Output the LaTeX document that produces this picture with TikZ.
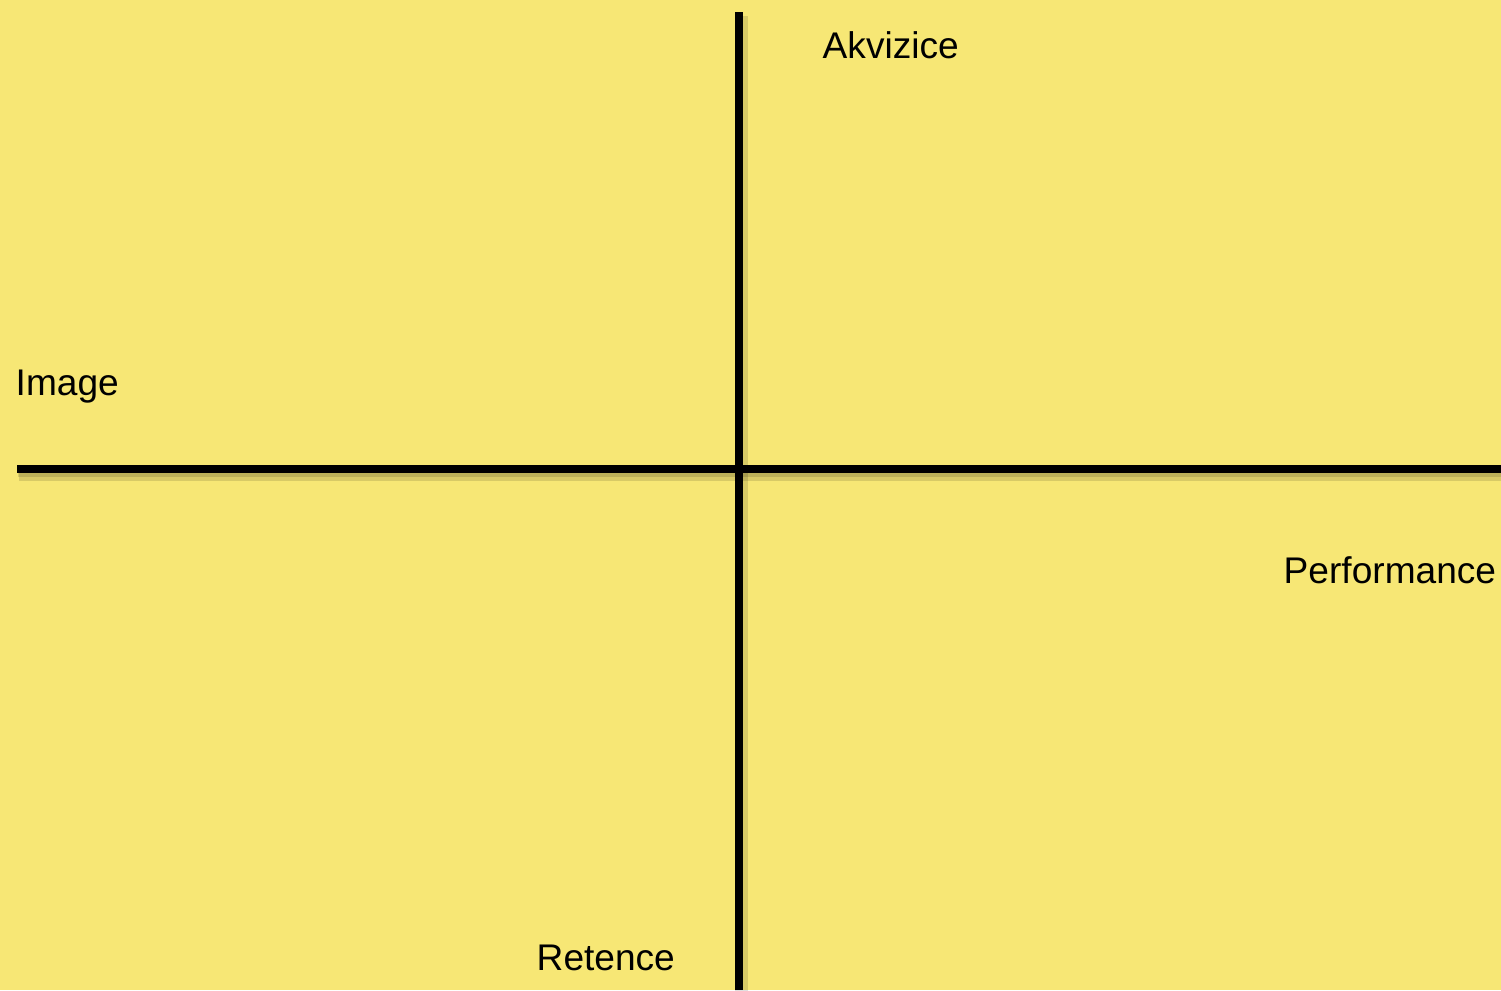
\documentclass[tikz,border=0pt]{standalone}
\usepackage{fontspec}
\setmainfont{Liberation Sans}
\definecolor{notepad}{HTML}{F7E775}

\tikzset{
  axis/.style={line width=0.085cm, black},
  axisshadow/.style={line width=0.13cm, black, opacity=0.12},
  lbl/.style={anchor=base west, font=\fontsize{10.55}{12.5}\selectfont, inner sep=0pt}
}

\begin{document}
\begin{tikzpicture}[x=0.01cm, y=-0.01cm]
  \fill[notepad] (0,0) rectangle (1501,990);
  \useasboundingbox (0,0) rectangle (1501,990);
  \coordinate (top) at (739,12);
  \coordinate (bottom) at (739,990);
  \coordinate (left) at (17,469);
  \coordinate (right) at (1501,469);
  % soft shadow under the axes
  \draw[axisshadow] ([shift={(2,4)}]top) -- ([shift={(2,4)}]bottom);
  \draw[axisshadow] ([shift={(2,5)}]left) -- ([shift={(2,5)}]right);
  \draw[axisshadow, line width=0.1cm] ([shift={(1,3)}]left) -- ([shift={(1,3)}]right);
  \draw[axis] (top) -- (bottom);
  \draw[axis] (left) -- (right);
  \node[lbl] (akv) at (822,58) {Akvizice};
  \node[lbl] (img) at (15,395) {Image};
  \node[lbl] (perf) at (1283,583) {Performance};
  \node[lbl] (ret) at (536,970) {Retence};
\end{tikzpicture}
\end{document}
